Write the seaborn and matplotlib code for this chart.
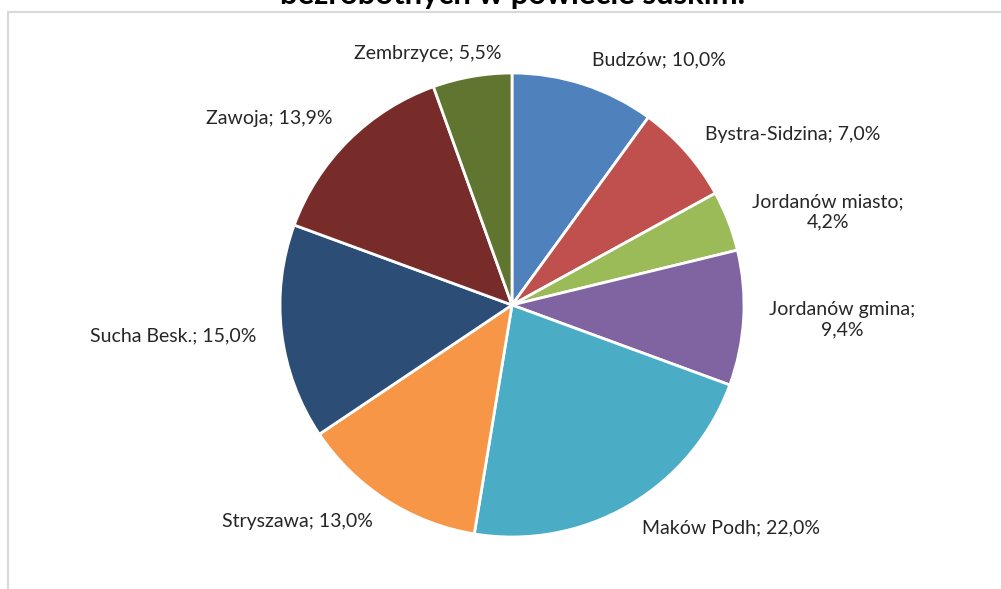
import matplotlib
matplotlib.use("Agg")
import matplotlib.pyplot as plt
import matplotlib.transforms as mtransforms
from matplotlib.lines import Line2D
import seaborn as sns

sns.set_theme(style="white")
plt.rcParams['font.family'] = ['Lato', 'DejaVu Sans']

categories = ["Budzów", "Bystra-Sidzina", "Jordanów miasto", "Jordanów gmina",
              "Maków Podh", "Stryszawa", "Sucha Besk.", "Zawoja", "Zembrzyce"]
values = [10.0, 7.0, 4.2, 9.4, 22.0, 13.0, 15.0, 13.9, 5.5]
label_texts = ["Budzów; 10,0%", "Bystra-Sidzina; 7,0%", "Jordanów miasto;\n4,2%",
               "Jordanów gmina;\n9,4%", "Maków Podh; 22,0%", "Stryszawa; 13,0%",
               "Sucha Besk.; 15,0%", "Zawoja; 13,9%", "Zembrzyce; 5,5%"]
colors = ["#4F81BD", "#C0504D", "#9BBB59", "#8064A2", "#4BACC6",
          "#F79646", "#2C4D75", "#772C2A", "#5F7530"]
title = "bezrobotnych w powiecie suskim."

# small label nudges (pixels) to mimic the original label placement
label_nudge = {"Zembrzyce": (34, -2), "Zawoja": (2, 4)}

fig = plt.figure(figsize=(10.01, 5.89), dpi=100)
ax = fig.add_axes([280/1001, 52/589, 464/1001, 464/589])
wedges, texts = ax.pie(values, labels=label_texts, colors=colors, startangle=90,
                       counterclock=False, radius=1.0, labeldistance=1.11,
                       wedgeprops=dict(edgecolor="white", linewidth=2),
                       textprops=dict(fontsize=14, color="#262626"))
for cat, t in zip(categories, texts):
    t.set_multialignment("center")
    if cat in label_nudge:
        dx, dy = label_nudge[cat]
        t.set_transform(mtransforms.offset_copy(ax.transData, fig=fig,
                                                x=dx, y=dy, units="dots"))
ax.set_xlim(-1, 1)
ax.set_ylim(-1, 1)
ax.set_aspect("equal")
ax.axis("off")

fig.text(0.512, 1 - 4/589, title, ha="center", va="baseline",
         fontsize=22.3, fontweight="bold", color="black")

fig.add_artist(Line2D([8/1001, 1], [1 - 12/589, 1 - 12/589],
                      transform=fig.transFigure, color="#D9D9D9", linewidth=1.5))
fig.add_artist(Line2D([8/1001, 8/1001], [0, 1 - 12/589],
                      transform=fig.transFigure, color="#D9D9D9", linewidth=1.5))

fig.savefig("out.png", dpi=100, facecolor="white")
